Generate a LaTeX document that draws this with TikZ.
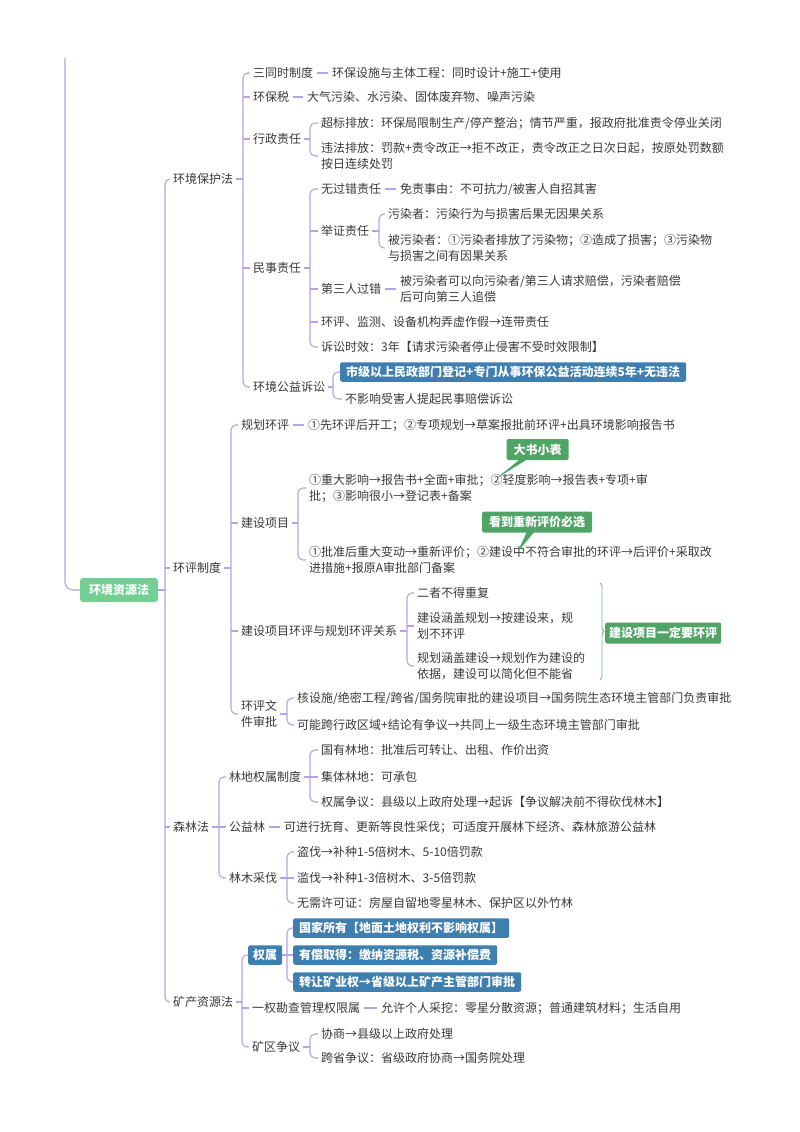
\documentclass[tikz,border=0pt]{standalone}
\usepackage{fontspec}
\setmainfont{Noto Sans CJK SC}
\usetikzlibrary{shapes.callouts,decorations.pathreplacing}
\definecolor{linec}{HTML}{B4A3E6}
\definecolor{txtc}{HTML}{3A3A3A}
\definecolor{bluec}{HTML}{3F7FB0}
\definecolor{greenc}{HTML}{4FA466}
\definecolor{rootc}{HTML}{72D094}
\definecolor{bracec}{HTML}{6DBF85}
\begin{document}
\begin{tikzpicture}[x=1pt,y=-1pt,
  t/.style={anchor=west,inner sep=3pt,text=txtc,font=\fontsize{12}{16}\selectfont,align=left},
  conn/.style={draw=linec,line width=1.1pt},
  br/.style={conn,rounded corners=5pt},
  linkln/.style={conn,shorten <=1pt,shorten >=1pt},
  bb/.style={anchor=west,fill=bluec,text=white,font=\fontsize{12}{16}\selectfont\bfseries,rounded corners=2pt,inner xsep=6pt,inner ysep=0pt,minimum height=19.5pt},
  gb/.style={anchor=west,fill=greenc,text=white,font=\fontsize{12}{16}\selectfont\bfseries,rounded corners=2pt,inner xsep=4pt,inner ysep=0pt,minimum height=21pt},
  co/.style={rectangle callout,fill=greenc,text=white,font=\fontsize{12}{16}\selectfont\bfseries,rounded corners=1.5pt,inner xsep=7pt,inner ysep=0pt,minimum height=21pt},
  root/.style={fill=rootc,text=white,font=\fontsize{12}{16}\selectfont\bfseries,rounded corners=3pt,inner xsep=9pt,minimum height=24pt,minimum width=78pt}
]
\useasboundingbox (0,0) rectangle (800,1132);
\fill[white] (0,0) rectangle (800,1132);

% ---------- root ----------
\node[root] (root) at (119,590) {环境资源法};
\coordinate (up) at (65,58);
\draw[conn,rounded corners=8pt] (up) -- (up |- root.west) -- (root.west);

% ---------- level 1 ----------
\node[t] (L1a) at (170,179) {环境保护法};
\node[t] (L1b) at (170,568) {环评制度};
\node[t] (L1c) at (170,827) {森林法};
\node[t] (L1d) at (170,1002) {矿产资源法};
\coordinate (k1) at (165,0);
\draw[conn] (root.east) -- (k1 |- root.east);
\draw[br] (L1a.west) -- (k1 |- L1a.west) -- (k1 |- L1d.west) -- (L1d.west);
\draw[conn] (k1 |- L1b.west) -- (L1b.west);
\draw[conn] (k1 |- L1c.west) -- (L1c.west);

% ---------- 环境保护法 ----------
\node[t] (a1) at (250,73) {三同时制度};
\node[t] (a1d) at (329,73) {环保设施与主体工程：同时设计+施工+使用};
\node[t] (a2) at (250,97) {环保税};
\node[t] (a2d) at (304,97) {大气污染、水污染、固体废弃物、噪声污染};
\node[t] (a3) at (250,139) {行政责任};
\node[t] (a31) at (318,123) {超标排放：环保局限制生产/停产整治；情节严重，报政府批准责令停业关闭};
\node[t] (a32) at (318,156) {违法排放：罚款+责令改正→拒不改正，责令改正之日次日起，按原处罚数额\\按日连续处罚};
\node[t] (a4) at (250,268) {民事责任};
\node[t] (a41) at (318,189) {无过错责任};
\node[t] (a41d) at (397,189) {免责事由：不可抗力/被害人自招其害};
\node[t] (a42) at (318,231) {举证责任};
\node[t] (a421) at (385,214) {污染者：污染行为与损害后果无因果关系};
\node[t] (a422) at (385,248) {被污染者：①污染者排放了污染物；②造成了损害；③污染物\\与损害之间有因果关系};
\node[t] (a43) at (318,289) {第三人过错};
\node[t] (a43d) at (397,289) {被污染者可以向污染者/第三人请求赔偿，污染者赔偿\\后可向第三人追偿};
\node[t] (a44) at (318,322) {环评、监测、设备机构弄虚作假→连带责任};
\node[t] (a45) at (318,347) {诉讼时效：3年【请求污染者停止侵害不受时效限制】};
\node[t] (a5) at (250,387) {环境公益诉讼};
\node[bb] (a51) at (340,372) {市级以上民政部门登记+专门从事环保公益活动连续5年+无违法};
\node[t] (a52) at (342,399) {不影响受害人提起民事赔偿诉讼};

\coordinate (k2a) at (243,0);
\draw[conn] (L1a.east) -- (k2a |- L1a.east);
\draw[br] (a1.west) -- (k2a |- a1.west) -- (k2a |- a5.west) -- (a5.west);
\draw[conn] (k2a |- a2.west) -- (a2.west);
\draw[conn] (k2a |- a3.west) -- (a3.west);
\draw[conn] (k2a |- a4.west) -- (a4.west);
\draw[linkln] (a1.east) -- (a1d.west);
\draw[linkln] (a2.east) -- (a2d.west);

\coordinate (k3a) at (310,0);
\draw[conn] (a3.east) -- (k3a |- a3.east);
\draw[br] (a31.west) -- (k3a |- a31.west) -- (k3a |- a32.west) -- (a32.west);

\draw[conn] (a4.east) -- (k3a |- a4.east);
\draw[br] (a41.west) -- (k3a |- a41.west) -- (k3a |- a45.west) -- (a45.west);
\draw[conn] (k3a |- a42.west) -- (a42.west);
\draw[conn] (k3a |- a43.west) -- (a43.west);
\draw[conn] (k3a |- a44.west) -- (a44.west);
\draw[linkln] (a41.east) -- (a41d.west);
\draw[linkln] (a43.east) -- (a43d.west);

\coordinate (k4a) at (379,0);
\draw[conn] (a42.east) -- (k4a |- a42.east);
\draw[br] (a421.west) -- (k4a |- a421.west) -- (k4a |- a422.west) -- (a422.west);

\coordinate (k3c) at (333,0);
\draw[conn] (a5.east) -- (k3c |- a5.east);
\draw[br] (a51.west) -- (k3c |- a51.west) -- (k3c |- a52.west) -- (a52.west);

% ---------- 环评制度 ----------
\node[t] (b1) at (238,425) {规划环评};
\node[t] (b1d) at (305,425) {①先环评后开工；②专项规划→草案报批前环评+出具环境影响报告书};
\node[t] (b2) at (238,523) {建设项目};
\node[t] (b21) at (306,488) {①重大影响→报告书+全面+审批；②轻度影响→报告表+专项+审\\批；③影响很小→登记表+备案};
\node[t] (b22) at (306,560) {①批准后重大变动→重新评价；②建设中不符合审批的环评→后评价+采取改\\进措施+报原A审批部门备案};
\node[co,callout relative pointer={(-27pt,-19pt)}] (cb1) at (537.5,449.5) {大书小表};
\node[co,callout relative pointer={(-13pt,-20pt)}] (cb2) at (537,522) {看到重新评价必选};
\node[t] (b3) at (238,631) {建设项目环评与规划环评关系};
\node[t] (b31) at (414,593) {二者不得重复};
\node[t] (b32) at (414,626) {建设涵盖规划→按建设来，规\\划不环评};
\node[t] (b33) at (414,666) {规划涵盖建设→规划作为建设的\\依据，建设可以简化但不能省};
\node[gb] (gsum) at (605,633) {建设项目一定要环评};
\node[t] (b4) at (238,714) {环评文\\件审批};
\node[t] (b41) at (294,698) {核设施/绝密工程/跨省/国务院审批的建设项目→国务院生态环境主管部门负责审批};
\node[t] (b42) at (294,725) {可能跨行政区域+结论有争议→共同上一级生态环境主管部门审批};

\coordinate (k2b) at (231,0);
\draw[conn] (L1b.east) -- (k2b |- L1b.east);
\draw[br] (b1.west) -- (k2b |- b1.west) -- (k2b |- b4.west) -- (b4.west);
\draw[conn] (k2b |- b2.west) -- (b2.west);
\draw[conn] (k2b |- b3.west) -- (b3.west);
\draw[linkln] (b1.east) -- (b1d.west);

\coordinate (k3d) at (298,0);
\draw[conn] (b2.east) -- (k3d |- b2.east);
\draw[br] (b21.west) -- (k3d |- b21.west) -- (k3d |- b22.west) -- (b22.west);

\coordinate (k3e) at (407,0);
\draw[conn] (b3.east) -- (k3e |- b3.east);
\draw[br] (b31.west) -- (k3e |- b31.west) -- (k3e |- b33.west) -- (b33.west);
\draw[conn] (k3e |- b32.west) -- (b32.west);

\coordinate (brT) at (600,583);
\coordinate (brB) at (600,680);
\draw[draw=bracec,line width=0.9pt,decorate,decoration={brace,amplitude=4pt}] (brT) -- (brB);

\coordinate (k3f) at (287,0);
\draw[conn] (b4.east) -- (k3f |- b4.east);
\draw[br] (b41.west) -- (k3f |- b41.west) -- (k3f |- b42.west) -- (b42.west);

% ---------- 森林法 ----------
\node[t] (c1) at (226,777) {林地权属制度};
\node[t] (c11) at (318,750) {国有林地：批准后可转让、出租、作价出资};
\node[t] (c12) at (318,777) {集体林地：可承包};
\node[t] (c13) at (318,802) {权属争议：县级以上政府处理→起诉【争议解决前不得砍伐林木】};
\node[t] (c2) at (226,827) {公益林};
\node[t] (c2d) at (281,827) {可进行抚育、更新等良性采伐；可适度开展林下经济、森林旅游公益林};
\node[t] (c3) at (226,878) {林木采伐};
\node[t] (c31) at (294,852) {盗伐→补种1-5倍树木、5-10倍罚款};
\node[t] (c32) at (294,878) {滥伐→补种1-3倍树木、3-5倍罚款};
\node[t] (c33) at (294,903) {无需许可证：房屋自留地零星林木、保护区以外竹林};

\coordinate (k2c) at (219,0);
\draw[conn] (L1c.east) -- (k2c |- L1c.east);
\draw[br] (c1.west) -- (k2c |- c1.west) -- (k2c |- c3.west) -- (c3.west);
\draw[conn] (k2c |- c2.west) -- (c2.west);
\draw[linkln] (c2.east) -- (c2d.west);

\coordinate (k3g) at (310,0);
\draw[conn] (c1.east) -- (k3g |- c1.east);
\draw[br] (c11.west) -- (k3g |- c11.west) -- (k3g |- c13.west) -- (c13.west);
\draw[conn] (k3g |- c12.west) -- (c12.west);

\coordinate (k3h) at (287,0);
\draw[conn] (c3.east) -- (k3h |- c3.east);
\draw[br] (c31.west) -- (k3h |- c31.west) -- (k3h |- c33.west) -- (c33.west);
\draw[conn] (k3h |- c32.west) -- (c32.west);

% ---------- 矿产资源法 ----------
\node[bb,inner xsep=5pt] (d1) at (248,955) {权属};
\node[bb] (d11) at (293,928) {国家所有【地面土地权利不影响权属】};
\node[bb] (d12) at (293,955) {有偿取得：缴纳资源税、资源补偿费};
\node[bb] (d13) at (293,982) {转让矿业权→省级以上矿产主管部门审批};
\node[t] (d2) at (249,1008) {一权勘查管理权限属};
\node[t] (d2d) at (378,1008) {允许个人采挖：零星分散资源；普通建筑材料；生活自用};
\node[t] (d3) at (249,1047) {矿区争议};
\node[t] (d31) at (318,1034) {协商→县级以上政府处理};
\node[t] (d32) at (318,1058) {跨省争议：省级政府协商→国务院处理};

\coordinate (k2d) at (242,0);
\draw[conn] (L1d.east) -- (k2d |- L1d.east);
\draw[br] (d1.west) -- (k2d |- d1.west) -- (k2d |- d3.west) -- (d3.west);
\draw[conn] (k2d |- d2.west) -- (d2.west);
\draw[linkln] (d2.east) -- (d2d.west);

\coordinate (k3i) at (287,0);
\draw[conn] (d1.east) -- (k3i |- d1.east);
\draw[br] (d11.west) -- (k3i |- d11.west) -- (k3i |- d13.west) -- (d13.west);
\draw[conn] (k3i |- d12.west) -- (d12.west);

\coordinate (k3j) at (310,0);
\draw[conn] (d3.east) -- (k3j |- d3.east);
\draw[br] (d31.west) -- (k3j |- d31.west) -- (k3j |- d32.west) -- (d32.west);
\end{tikzpicture}
\end{document}
